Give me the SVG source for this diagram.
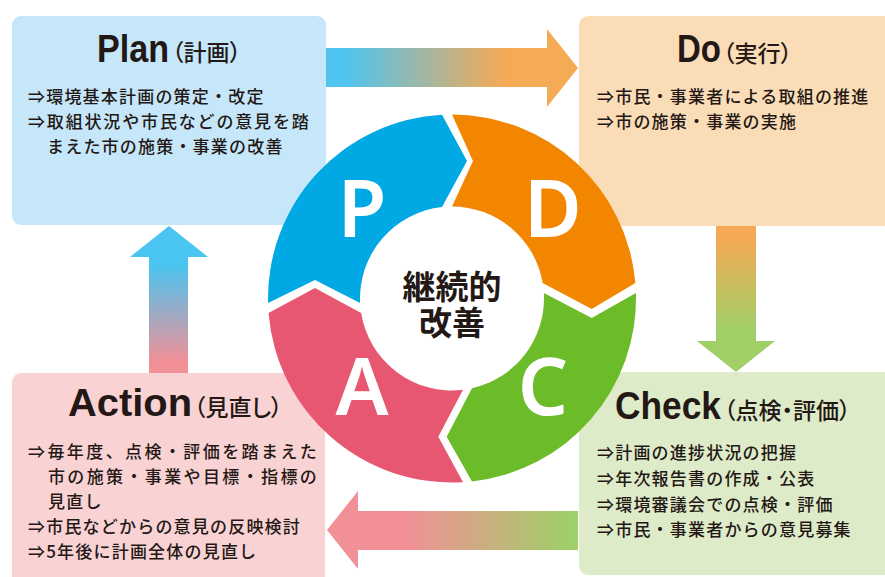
<svg xmlns="http://www.w3.org/2000/svg" width="885" height="577" viewBox="0 0 885 577">
<defs>
<style>
.en { font-family: "Liberation Sans", Arial, sans-serif; font-weight: 700; font-size: 38px; fill: #231815; }
.jp { font-family: "Noto Sans CJK JP", sans-serif; font-weight: 500; font-size: 23px; fill: #231815; font-feature-settings: "palt"; }
.body { font-family: "Noto Sans CJK JP", sans-serif; font-weight: 500; font-size: 17px; letter-spacing: 1.2px; fill: #231815; }
.letter { font-family: "Noto Sans", "Open Sans", sans-serif; font-weight: 600; font-size: 79px; fill: #ffffff; text-anchor: middle; }
.center { font-family: "Noto Sans CJK JP", sans-serif; font-weight: 700; font-size: 33px; fill: #231815; text-anchor: middle; }
</style>
<linearGradient id="gTop" gradientUnits="userSpaceOnUse" x1="345" y1="0" x2="505" y2="0">
<stop offset="0" stop-color="#4FC4F0"/><stop offset="1" stop-color="#F5AA55"/>
</linearGradient>
<linearGradient id="gRight" gradientUnits="userSpaceOnUse" x1="0" y1="238" x2="0" y2="330">
<stop offset="0" stop-color="#F5AA55"/><stop offset="1" stop-color="#A0CF68"/>
</linearGradient>
<linearGradient id="gBottom" gradientUnits="userSpaceOnUse" x1="405" y1="0" x2="570" y2="0">
<stop offset="0" stop-color="#F29097"/><stop offset="1" stop-color="#A0CF68"/>
</linearGradient>
<linearGradient id="gLeft" gradientUnits="userSpaceOnUse" x1="0" y1="265" x2="0" y2="362">
<stop offset="0" stop-color="#4AC4F0"/><stop offset="1" stop-color="#F29097"/>
</linearGradient>
</defs>
<rect width="885" height="577" fill="#ffffff"/>

<g id="plan">
<rect x="12" y="16" width="314" height="209" rx="9" fill="#C5E7F9"/>
<text class="en" x="97" y="61.5" textLength="72" lengthAdjust="spacingAndGlyphs">Plan</text>
<text class="jp" x="172" y="61">（計画）</text>
<text class="body" x="28" y="102.5">⇒環境基本計画の策定・改定</text>
<text class="body" x="28" y="128" textLength="282">⇒取組状況や市民などの意見を踏</text>
<text class="body" x="47" y="153">まえた市の施策・事業の改善</text>
</g>

<g id="do">
<rect x="579" y="16" width="320" height="210" rx="9" fill="#FADCB6"/>
<text class="en" x="677" y="61.5" textLength="44" lengthAdjust="spacingAndGlyphs">Do</text>
<text class="jp" x="723" y="61.5">（実行）</text>
<text class="body" x="597" y="102.5">⇒市民・事業者による取組の推進</text>
<text class="body" x="597" y="127.5">⇒市の施策・事業の実施</text>
</g>

<g id="check">
<rect x="579" y="372" width="320" height="203" rx="9" fill="#DEEBC9"/>
<text class="en" x="615" y="419" textLength="106" lengthAdjust="spacingAndGlyphs">Check</text>
<text class="jp" x="724" y="419">（点検・評価）</text>
<text class="body" x="597" y="459">⇒計画の進捗状況の把握</text>
<text class="body" x="597" y="484.5">⇒年次報告書の作成・公表</text>
<text class="body" x="597" y="510.5">⇒環境審議会での点検・評価</text>
<text class="body" x="597" y="535.5">⇒市民・事業者からの意見募集</text>
</g>

<g id="action">
<rect x="12" y="373" width="313" height="215" rx="9" fill="#F9D2D4"/>
<text class="en" x="68" y="415.5" textLength="124" lengthAdjust="spacingAndGlyphs">Action</text>
<text class="jp" x="194" y="415.5">（見直し）</text>
<text class="body" x="28" y="457.5" textLength="290">⇒毎年度、点検・評価を踏まえた</text>
<text class="body" x="48" y="483" textLength="270">市の施策・事業や目標・指標の</text>
<text class="body" x="48" y="508">見直し</text>
<text class="body" x="28" y="533">⇒市民などからの意見の反映検討</text>
<text class="body" x="28" y="557.5">⇒5年後に計画全体の見直し</text>
</g>

<g id="connectors">
<polygon points="326,48 547,48 547,29 578,68 547,107 547,87 326,87" fill="url(#gTop)"/>
<polygon points="716,226 756,226 756,341 775,341 736,372 697,341 716,341" fill="url(#gRight)"/>
<polygon points="578,511 358,511 358,491 327,530 358,569 358,550 578,550" fill="url(#gBottom)"/>
<polygon points="149,373 149,257 130,257 169,226 208,257 188,257 188,373" fill="url(#gLeft)"/>
</g>

<g id="cycle">
<g id="seg-p">
<path d="M268.06,303 L315,280 L360.11,303 A92,92 0 0 1 442,207.05 L467,161 L442,114.77 A184,184 0 0 0 268.06,303 Z" fill="#00A9E3"/>
<text class="letter" x="362" y="237">P</text>
</g>
<g id="seg-d">
<path d="M452,114.5 L473,161 L452,206.5 A92,92 0 0 1 542.69,283 L591.7,309 L635.35,283 A184,184 0 0 0 452,114.5 Z" fill="#F28600"/>
<text class="letter" x="553" y="237">D</text>
</g>
<g id="seg-c">
<path d="M635.92,293 L591.7,318 L543.84,293 A92,92 0 0 1 472,388.3 L446.7,436.7 L472,481.41 A184,184 0 0 0 635.92,293 Z" fill="#6CBB29"/>
<text class="letter" x="543" y="414.5">C</text>
</g>
<g id="seg-a">
<path d="M463,482.17 L438.3,436.7 L463,389.84 A92,92 0 0 1 361.15,313 L315,288 L268.57,313 A184,184 0 0 0 463,482.17 Z" fill="#E85771"/>
<text class="letter" x="362" y="415">A</text>
</g>
<g id="center-label">
<text class="center"><tspan x="452" y="299">継続的</tspan><tspan x="452" y="335">改善</tspan></text>
</g>
</g>
</svg>
